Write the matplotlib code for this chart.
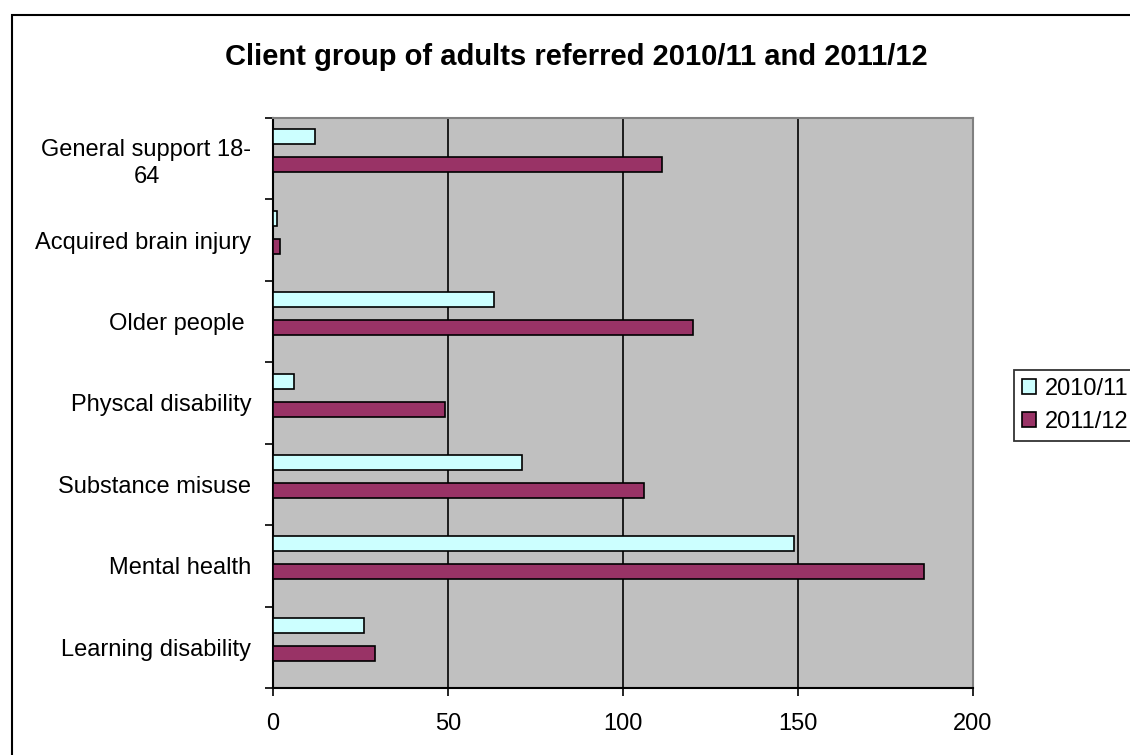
import matplotlib.pyplot as plt
import matplotlib.patches as mpatches
import numpy as np

plt.rcParams['font.family'] = ['Liberation Sans', 'DejaVu Sans']

# data, bottom to top as in the chart
categories = ['Learning disability', 'Mental health', 'Substance misuse',
              'Physcal disability', 'Older people ', 'Acquired brain injury',
              'General support 18-\n64']
y2010 = [26, 149, 71, 6, 63, 1, 12]
y2011 = [29, 186, 106, 49, 120, 2, 111]
xticks = [0, 50, 100, 150, 200]

W, H = 1130, 755
fig = plt.figure(figsize=(W / 100, H / 100), dpi=100)
ax = fig.add_axes([273 / W, 1 - 688 / H, (973 - 273) / W, (688 - 118) / H])

pos = np.arange(len(categories))
h = 0.184
ax.barh(pos + 0.27, y2010, height=h, color='#CCFFFF', edgecolor='black',
        linewidth=1.2, label='2010/11', zorder=3)
ax.barh(pos - 0.074, y2011, height=h, color='#993366', edgecolor='black',
        linewidth=1.2, label='2011/12', zorder=3)

ax.set_facecolor('#C0C0C0')
ax.set_xlim(0, 200)
ax.set_ylim(-0.5, len(categories) - 0.5)
ax.set_xticks(xticks)
ax.set_xticklabels([str(t) for t in xticks], fontsize=17)
ax.xaxis.grid(True, color='black', linewidth=1.2, zorder=1)
ax.set_axisbelow(True)

ax.set_yticks(pos)
ax.set_yticklabels(categories, fontsize=17, multialignment='center', linespacing=1.3)
ax.set_yticks(np.arange(-0.5, len(categories), 1.0), minor=True)
ax.tick_params(axis='y', which='major', length=0, pad=15.5)
ax.tick_params(axis='y', which='minor', length=6, width=1.2, direction='out')
ax.tick_params(axis='x', length=6, width=1.2, pad=12)

for s in ['left', 'bottom']:
    ax.spines[s].set_linewidth(1.5)
    ax.spines[s].set_color('black')
for s in ['top', 'right']:
    ax.spines[s].set_linewidth(1.5)
    ax.spines[s].set_color('#808080')

fig.text(576 / W, 1 - 57 / H, 'Client group of adults referred 2010/11 and 2011/12',
         ha='center', va='center', fontsize=21, fontweight='bold')

leg = ax.legend(loc='lower left', bbox_to_anchor=(1014 / W, 1 - 441 / H),
                bbox_transform=fig.transFigure, frameon=True, fancybox=False,
                edgecolor='black', fontsize=17, handlelength=0.6,
                handleheight=0.6, handletextpad=0.35, borderpad=0.35,
                labelspacing=0.45, borderaxespad=0)
leg.get_frame().set_linewidth(1.3)

# outer chart frame
fig.patches.append(mpatches.Rectangle((12 / W, -0.05), 1.2, 1 - 15 / H + 0.05,
                                      transform=fig.transFigure, fill=False,
                                      edgecolor='black', linewidth=1.5))

fig.savefig('out.png', dpi=100)
